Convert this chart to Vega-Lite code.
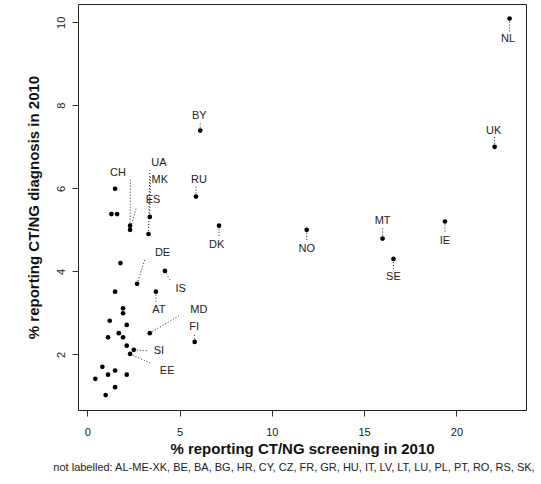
{
  "$schema": "https://vega.github.io/schema/vega-lite/v6.json",
  "width": 448,
  "height": 406,
  "autosize": "none",
  "padding": {"left": 78, "top": 4, "right": 15, "bottom": 74},
  "background": "white",
  "config": {
    "font": "Liberation Sans",
    "view": {"stroke": "#222", "strokeWidth": 1},
    "axis": {
      "grid": false,
      "domain": false,
      "tickColor": "#333",
      "tickSize": 6,
      "labelFont": "Liberation Sans",
      "labelFontSize": 11,
      "labelColor": "#222",
      "labelFlush": false,
      "titleFont": "Liberation Sans",
      "titleFontSize": 15,
      "titleFontWeight": "bold",
      "titleColor": "#111"
    }
  },
  "title": {
    "text": "not labelled: AL-ME-XK, BE, BA, BG, HR, CY, CZ, FR, GR, HU, IT, LV, LT, LU, PL, PT, RO, RS, SK,",
    "orient": "bottom",
    "anchor": "middle",
    "font": "Liberation Sans",
    "fontSize": 11,
    "fontWeight": "normal",
    "color": "#222",
    "offset": 6,
    "dx": -8
  },
  "data": {
    "values": [
      {"country": "NL", "x": 22.88, "y": 10.09, "lx": 22.80, "ly": 9.60, "ex": 22.88, "ey": 9.75},
      {"country": "UK", "x": 22.07, "y": 7.00, "lx": 22.02, "ly": 7.39, "ex": 22.07, "ey": 7.29},
      {"country": "BY", "x": 6.12, "y": 7.39, "lx": 6.07, "ly": 7.75, "ex": 6.12, "ey": 7.61},
      {"country": "RU", "x": 5.89, "y": 5.80, "lx": 6.05, "ly": 6.20, "ex": 5.89, "ey": 6.04},
      {"country": "CH", "x": 2.32, "y": 5.10, "lx": 1.67, "ly": 6.38, "ex": 2.34, "ey": 6.25},
      {"country": "ES", "x": 2.32, "y": 5.00, "lx": 3.57, "ly": 5.71, "ex": 2.67, "ey": 5.55},
      {"country": "UA", "x": 3.32, "y": 4.90, "lx": 3.88, "ly": 6.61, "ex": 3.39, "ey": 6.43},
      {"country": "MK", "x": 3.39, "y": 5.31, "lx": 3.93, "ly": 6.19, "ex": 3.42, "ey": 6.28},
      {"country": "DK", "x": 7.14, "y": 5.10, "lx": 7.01, "ly": 4.64, "ex": 7.14, "ey": 4.84},
      {"country": "NO", "x": 11.89, "y": 5.00, "lx": 11.89, "ly": 4.53, "ex": 11.89, "ey": 4.74},
      {"country": "MT", "x": 16.00, "y": 4.79, "lx": 16.00, "ly": 5.22, "ex": 16.00, "ey": 5.05},
      {"country": "IE", "x": 19.38, "y": 5.20, "lx": 19.38, "ly": 4.74, "ex": 19.38, "ey": 4.93},
      {"country": "SE", "x": 16.59, "y": 4.30, "lx": 16.59, "ly": 3.86, "ex": 16.59, "ey": 4.06},
      {"country": "DE", "x": 2.70, "y": 3.70, "lx": 4.08, "ly": 4.45, "ex": 3.12, "ey": 4.28},
      {"country": "IS", "x": 4.21, "y": 4.01, "lx": 5.06, "ly": 3.57, "ex": 4.51, "ey": 3.77},
      {"country": "AT", "x": 3.72, "y": 3.51, "lx": 3.88, "ly": 3.07, "ex": 3.72, "ey": 3.27},
      {"country": "MD", "x": 3.39, "y": 2.51, "lx": 6.05, "ly": 3.07, "ex": 4.96, "ey": 2.93},
      {"country": "FI", "x": 5.82, "y": 2.30, "lx": 5.79, "ly": 2.67, "ex": 5.82, "ey": 2.52},
      {"country": "SI", "x": 2.52, "y": 2.11, "lx": 3.88, "ly": 2.09, "ex": 3.27, "ey": 2.09},
      {"country": "EE", "x": 2.32, "y": 2.01, "lx": 4.33, "ly": 1.59, "ex": 3.39, "ey": 1.80},
      {"x": 1.31, "y": 5.38},
      {"x": 1.62, "y": 5.38},
      {"x": 1.51, "y": 5.99},
      {"x": 1.80, "y": 4.20},
      {"x": 1.51, "y": 3.51},
      {"x": 1.94, "y": 3.11},
      {"x": 1.94, "y": 2.99},
      {"x": 1.22, "y": 2.81},
      {"x": 2.14, "y": 2.71},
      {"x": 1.71, "y": 2.51},
      {"x": 1.13, "y": 2.41},
      {"x": 1.94, "y": 2.41},
      {"x": 2.14, "y": 2.21},
      {"x": 0.82, "y": 1.70},
      {"x": 1.51, "y": 1.61},
      {"x": 1.13, "y": 1.51},
      {"x": 2.14, "y": 1.51},
      {"x": 0.44, "y": 1.41},
      {"x": 1.51, "y": 1.21},
      {"x": 1.00, "y": 1.02}
    ]
  },
  "layer": [
    {
      "transform": [{"filter": "isValid(datum.country)"}],
      "mark": {"type": "rule", "strokeDash": [1, 2], "strokeWidth": 1, "color": "#222"},
      "encoding": {
        "x": {"field": "x", "type": "quantitative", "scale": {"domain": [-0.5, 23.77], "nice": false, "zero": false},
              "axis": {"values": [0, 5, 10, 15, 20], "title": "% reporting CT/NG screening in 2010", "labelPadding": 10, "titlePadding": 4}},
        "y": {"field": "y", "type": "quantitative", "scale": {"domain": [0.66, 10.44], "nice": false, "zero": false},
              "axis": {"values": [2, 4, 6, 8, 10], "title": "% reporting CT/NG diagnosis in 2010", "labelAngle": -90, "labelAlign": "center", "labelBaseline": "bottom", "labelPadding": 6, "titlePadding": 14}},
        "x2": {"field": "ex"},
        "y2": {"field": "ey"}
      }
    },
    {
      "mark": {"type": "circle", "size": 22, "color": "#000", "opacity": 1},
      "encoding": {
        "x": {"field": "x", "type": "quantitative", "scale": {"domain": [-0.5, 23.77], "nice": false, "zero": false},
              "axis": {"values": [0, 5, 10, 15, 20], "title": "% reporting CT/NG screening in 2010", "labelPadding": 10, "titlePadding": 4}},
        "y": {"field": "y", "type": "quantitative", "scale": {"domain": [0.66, 10.44], "nice": false, "zero": false},
              "axis": {"values": [2, 4, 6, 8, 10], "title": "% reporting CT/NG diagnosis in 2010", "labelAngle": -90, "labelAlign": "center", "labelBaseline": "bottom", "labelPadding": 6, "titlePadding": 14}}
      }
    },
    {
      "transform": [{"filter": "isValid(datum.country)"}],
      "mark": {"type": "text", "font": "Liberation Sans", "fontSize": 11, "color": "#222", "align": "center", "baseline": "middle"},
      "encoding": {
        "x": {"field": "lx", "type": "quantitative", "scale": {"domain": [-0.5, 23.77], "nice": false, "zero": false},
              "axis": {"values": [0, 5, 10, 15, 20], "title": "% reporting CT/NG screening in 2010", "labelPadding": 10, "titlePadding": 4}},
        "y": {"field": "ly", "type": "quantitative", "scale": {"domain": [0.66, 10.44], "nice": false, "zero": false},
              "axis": {"values": [2, 4, 6, 8, 10], "title": "% reporting CT/NG diagnosis in 2010", "labelAngle": -90, "labelAlign": "center", "labelBaseline": "bottom", "labelPadding": 6, "titlePadding": 14}},
        "text": {"field": "country"}
      }
    }
  ]
}
